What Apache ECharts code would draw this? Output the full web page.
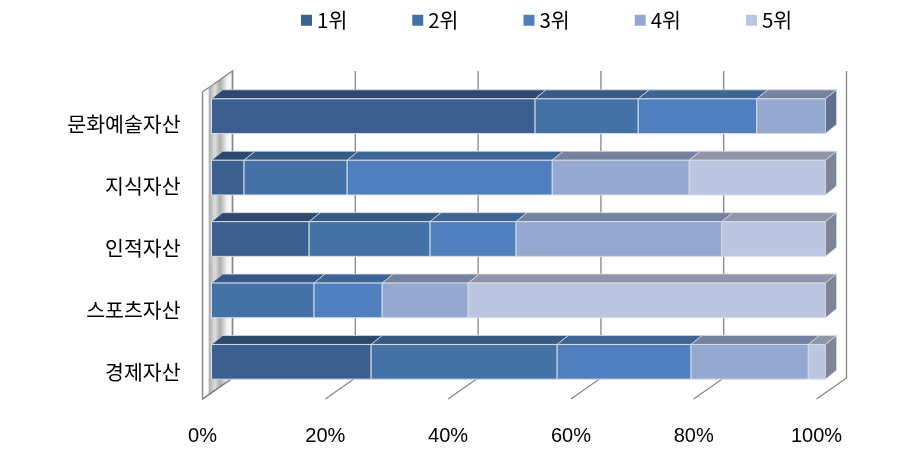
<!DOCTYPE html>
<html><head><meta charset="utf-8">
<style>html,body{margin:0;padding:0;background:#fff}#c{width:913px;height:458px}</style>
<script src="https://cdn.jsdelivr.net/npm/echarts@6/dist/echarts.min.js"></script>
</head><body><div id="c"></div>
<script>
const categories = ['문화예술자산','지식자산','인적자산','스포츠자산','경제자산'];
const rankNames = ['1위','2위','3위','4위','5위'];
const rank1 = [52.7, 5.3, 15.9, 0, 26];
const rank2 = [16.8, 16.8, 19.7, 16.7, 30.3];
const rank3 = [19.3, 33.4, 14, 11.1, 21.8];
const rank4 = [11.2, 22.3, 33.5, 14, 19.1];
const rank5 = [0, 22.2, 16.9, 58.2, 2.8];
const ticks = [0,20,40,60,80,100];
const frontColors = ['#3b5f8e','#4472a6','#4f80bd','#95a9d0','#bbc7e0'];
const topColors = ['#2d4a6e','#365a84','#3e6594','#74829f','#8f96aa'];
const sideColors = ['#2d4a6e','#365a84','#3e6594','#62708f','#7c8496'];

const ranks = [rank1,rank2,rank3,rank4,rank5];
const chart = echarts.init(document.getElementById('c'));
const OFF_X = 9, OFF_Y = -6.5, D_X = 11, D_Y = -9, BACK_X = 30, BACK_Y = -21;
const EDGE = '#d5dbe6';

function barRenderer(ri){
  return function(params, api){
    const s = api.value(0), e = api.value(1), cat = api.value(2);
    if (e - s <= 0) return null;
    const band = api.size([0,1])[1], h = band*0.565;
    const a = api.coord([s,cat]), b = api.coord([e,cat]);
    const x0 = a[0]+OFF_X, x1 = b[0]+OFF_X;
    const y0 = a[1]+OFF_Y-h/2, y1 = y0+h;
    const children = [
      {type:'polygon',shape:{points:[[x0,y0],[x0+D_X,y0+D_Y],[x1+D_X,y0+D_Y],[x1,y0]]},
       style:{fill:topColors[ri],stroke:EDGE,lineWidth:0.8}},
      {type:'rect',shape:{x:x0,y:y0,width:x1-x0,height:h},
       style:{fill:frontColors[ri],stroke:EDGE,lineWidth:1}}
    ];
    if (e >= 99.95) children.push({type:'polygon',
      shape:{points:[[x1,y0],[x1+D_X,y0+D_Y],[x1+D_X,y1+D_Y],[x1,y1]]},
      style:{fill:sideColors[ri],stroke:EDGE,lineWidth:0.8}});
    return {type:'group',children};
  };
}

const barSeries = rankNames.map((name,ri)=>{
  const data = categories.map((c,i)=>{
    let s = 0; for(let k=0;k<ri;k++) s += ranks[k][i];
    return [s, s+ranks[ri][i], i];
  });
  return {name,type:'custom',coordinateSystem:'cartesian2d',xAxisIndex:0,yAxisIndex:0,z:3,
    itemStyle:{color:frontColors[ri]},
    encode:{x:[0,1],y:2},data,renderItem:barRenderer(ri),silent:true};
});

const frameSeries = {
  name:'frame',type:'custom',coordinateSystem:'cartesian2d',xAxisIndex:0,yAxisIndex:0,z:1,silent:true,
  data:ticks.map(t=>[t,0]),encode:{x:0,y:1},
  renderItem(params,api){
    const v = api.value(0), x = api.coord([v,0])[0];
    const cs = params.coordSys, top = cs.y, bot = cs.y+cs.height;
    const children = [];
    if (v === 0) children.push({type:'polygon',
      shape:{points:[[x,top],[x+BACK_X,top+BACK_Y],[x+BACK_X,bot+BACK_Y],[x,bot]]},
      style:{fill:{type:'linear',x:0,y:0,x2:1,y2:0,colorStops:[
        {offset:0,color:'#ffffff'},{offset:0.2,color:'#ffffff'},{offset:0.24,color:'#b0b0b0'},
        {offset:0.42,color:'#dedede'},{offset:0.58,color:'#ababab'},
        {offset:0.8,color:'#f2f2f2'},{offset:1,color:'#ffffff'}]},stroke:'#8c8c8c',lineWidth:1.5}});
    children.push({type:'polyline',
      shape:{points:[[x,bot],[x+BACK_X,bot+BACK_Y],[x+BACK_X,top+BACK_Y]]},
      style:{fill:null,stroke:'#868686',lineWidth:1.3}});
    return {type:'group',children};
  }
};

// Hidden-mark second grid only carries the category labels
const labelSeries = {name:'labels',type:'custom',coordinateSystem:'cartesian2d',xAxisIndex:1,yAxisIndex:1,
  silent:true,data:categories.map((c,i)=>[0,i]),encode:{x:0,y:1},renderItem(){return null;}};

chart.setOption({
  animation:false,
  backgroundColor:'#fff',
  textStyle:{fontFamily:'"Noto Sans CJK KR","Noto Sans",sans-serif'},
  legend:{data:rankNames,top:5,left:296,icon:'rect',itemWidth:11,itemHeight:11,itemGap:65,
    textStyle:{fontSize:20.5,color:'#000',fontFamily:'"Noto Sans CJK KR",sans-serif'}},
  grid:[{left:202.5,top:92,width:614,height:307},{left:202.5,top:93,width:614,height:310}],
  xAxis:[{type:'value',gridIndex:0,min:0,max:100,interval:20,
    axisLine:{show:false},axisTick:{show:false},splitLine:{show:false},
    axisLabel:{formatter:'{value}%',fontSize:20,color:'#000',margin:27,
      fontFamily:'"Liberation Sans","Noto Sans",sans-serif',hideOverlap:false,showMinLabel:true,showMaxLabel:true}},
    {type:'value',gridIndex:1,min:0,max:100,show:false}],
  yAxis:[{type:'category',gridIndex:0,inverse:true,data:categories,
    axisLine:{show:false},axisTick:{show:false},splitLine:{show:false},axisLabel:{show:false}},
    {type:'category',gridIndex:1,inverse:true,data:categories,
    axisLine:{show:false},axisTick:{show:false},splitLine:{show:false},
    axisLabel:{fontSize:20.5,color:'#000',margin:22,
      fontFamily:'"Noto Sans CJK KR",sans-serif'}}],
  series:[frameSeries,...barSeries,labelSeries]
});
</script></body></html>
